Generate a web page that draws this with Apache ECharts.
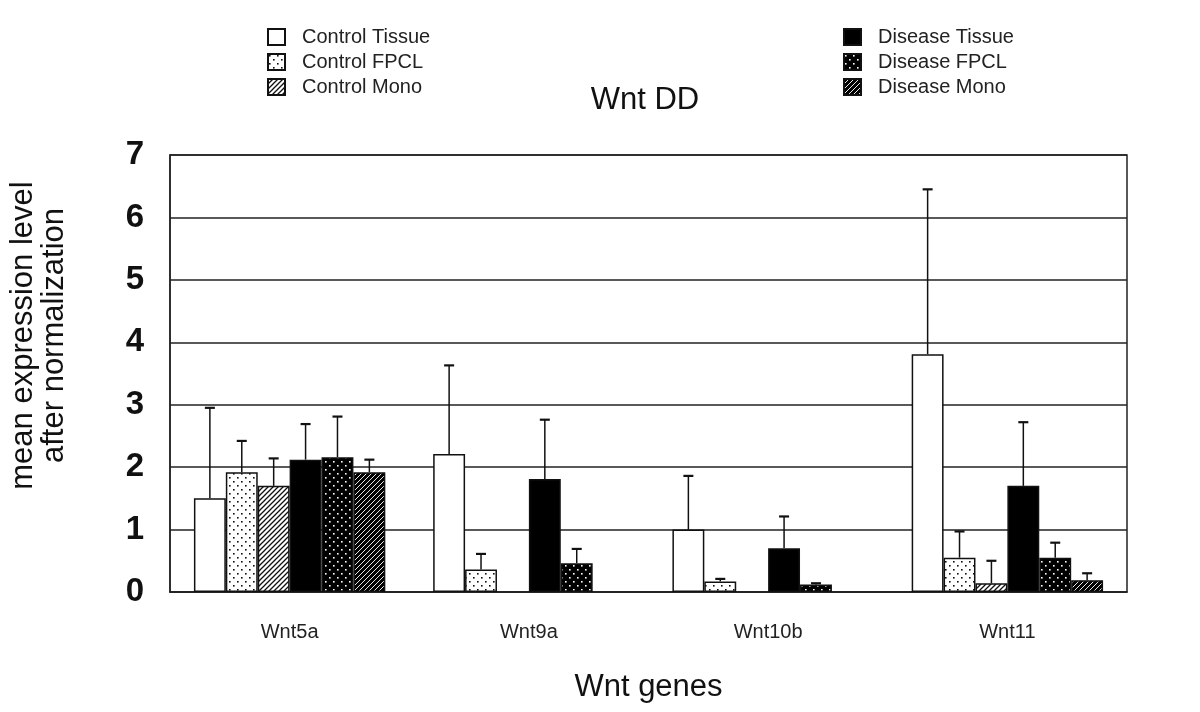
<!DOCTYPE html>
<html>
<head>
<meta charset="utf-8">
<script src="https://cdn.jsdelivr.net/npm/echarts@6/dist/echarts.min.js"></script>
<style>html,body{margin:0;padding:0;background:#fff}#chart{width:1200px;height:712px}</style>
</head>
<body>
<div id="chart"></div>
<script>
// ---- data ----
const categories = ['Wnt5a', 'Wnt9a', 'Wnt10b', 'Wnt11'];
const seriesNames = ['Control Tissue', 'Control FPCL', 'Control Mono', 'Disease Tissue', 'Disease FPCL', 'Disease Mono'];
const controlTissue = [1.50, 2.21, 1.00, 3.81];
const controlFPCL   = [1.92, 0.36, 0.17, 0.55];
const controlMono   = [1.70, null, null, 0.14];
const diseaseTissue = [2.12, 1.81, 0.70, 1.70];
const diseaseFPCL   = [2.16, 0.46, 0.12, 0.55];
const diseaseMono   = [1.92, null, null, 0.19];
const controlTissueErr = [1.45, 1.42, 0.86, 2.64];
const controlFPCLErr   = [0.50, 0.25, 0.04, 0.42];
const controlMonoErr   = [0.44, null, null, 0.36];
const diseaseTissueErr = [0.57, 0.95, 0.51, 1.02];
const diseaseFPCLErr   = [0.65, 0.23, 0.02, 0.24];
const diseaseMonoErr   = [0.20, null, null, 0.11];
const yTicks = [0, 1, 2, 3, 4, 5, 6, 7];

const values = [controlTissue, controlFPCL, controlMono, diseaseTissue, diseaseFPCL, diseaseMono];
const errors = [controlTissueErr, controlFPCLErr, controlMonoErr, diseaseTissueErr, diseaseFPCLErr, diseaseMonoErr];

// ---- patterns ----
function pattern(kind, dark) {
  const c = document.createElement('canvas');
  const s = kind === 'dots' ? 8 : 5;
  c.width = s; c.height = s;
  const g = c.getContext('2d');
  g.fillStyle = dark ? '#000' : '#fff';
  g.fillRect(0, 0, s, s);
  const fg = dark ? '#fff' : '#111';
  if (kind === 'dots') {
    g.fillStyle = fg;
    g.fillRect(1, 1, 1.6, 1.6);
    g.fillRect(5, 5, 1.6, 1.6);
  } else if (kind === 'hatch') {
    g.strokeStyle = fg;
    g.lineWidth = dark ? 0.9 : 1.3;
    g.beginPath();
    g.moveTo(0, s); g.lineTo(s, 0);
    g.moveTo(-s, s); g.lineTo(s, -s);
    g.moveTo(0, 2 * s); g.lineTo(2 * s, 0);
    g.stroke();
  }
  return c;
}
const fills = [
  '#ffffff',
  { image: pattern('dots', false), repeat: 'repeat' },
  { image: pattern('hatch', false), repeat: 'repeat' },
  '#000000',
  { image: pattern('dots', true), repeat: 'repeat' },
  { image: pattern('hatch', true), repeat: 'repeat' }
];

const FONT = 'Liberation Sans, Arial, Helvetica, sans-serif';

const barSeries = seriesNames.map((name, i) => ({
  name: name,
  type: 'bar',
  data: values[i],
  barGap: '0%',
  barCategoryGap: '20%',
  itemStyle: { color: fills[i], borderColor: '#111', borderWidth: 1.5 },
  emphasis: { disabled: true },
  z: 2
}));

const errData = [];
errors.forEach((arr, si) => {
  arr.forEach((e, ci) => {
    if (e != null && values[si][ci] != null) errData.push([ci, values[si][ci], e, si]);
  });
});

const errSeries = {
  type: 'custom',
  name: 'err',
  data: errData,
  z: 5,
  silent: true,
  renderItem: function (params, api) {
    const ci = api.value(0), v = api.value(1), e = api.value(2), si = api.value(3);
    const base = api.coord([ci, v]);
    const top = api.coord([ci, v + e]);
    const band = api.size([1, 0])[0];
    const bw = band * 0.8 / 6;
    const x = base[0] + (si - 2.5) * bw;
    const st = { stroke: '#111', lineWidth: 1.5 };
    return {
      type: 'group',
      children: [
        { type: 'line', shape: { x1: x, y1: base[1], x2: x, y2: top[1] }, style: st },
        { type: 'line', shape: { x1: x - 5, y1: top[1], x2: x + 5, y2: top[1] }, style: { stroke: '#111', lineWidth: 2.2 } }
      ]
    };
  }
};

const legendText = { fontFamily: FONT, fontSize: 20, color: '#222', padding: [0, 0, 0, 12] };

const option = {
  animation: false,
  backgroundColor: '#fff',
  title: {
    text: 'Wnt DD',
    left: 640,
    textAlign: 'center',
    top: 80,
    textStyle: { fontFamily: FONT, fontSize: 31, fontWeight: 'normal', color: '#111' }
  },
  legend: [
    {
      data: seriesNames.slice(0, 3),
      orient: 'vertical',
      left: 262,
      top: 22,
      itemWidth: 17,
      itemHeight: 16,
      itemGap: 5,
      icon: 'rect',
      selectedMode: false,
      textStyle: legendText
    },
    {
      data: seriesNames.slice(3, 6),
      orient: 'vertical',
      left: 838,
      top: 22,
      itemWidth: 17,
      itemHeight: 16,
      itemGap: 5,
      icon: 'rect',
      selectedMode: false,
      textStyle: legendText
    }
  ],
  grid: {
    left: 169, right: 73, top: 155, bottom: 120,
    show: true, borderColor: '#222', borderWidth: 1.5, backgroundColor: 'transparent'
  },
  xAxis: {
    type: 'category',
    data: categories,
    axisLine: { show: true, lineStyle: { color: '#222', width: 1.5 } },
    axisTick: { show: false },
    axisLabel: { fontFamily: FONT, fontSize: 20, color: '#222', margin: 30 },
    name: 'Wnt genes',
    nameLocation: 'middle',
    nameGap: 80,
    nameTextStyle: { fontFamily: FONT, fontSize: 31, color: '#111' }
  },
  yAxis: {
    type: 'value',
    min: 0, max: 7, interval: 1,
    axisLine: { show: true, lineStyle: { color: '#222', width: 1.5 } },
    axisTick: { show: false },
    splitLine: { show: true, lineStyle: { color: '#222', width: 1.5 } },
    axisLabel: {
      fontFamily: FONT, fontSize: 33, fontWeight: 'bold', color: '#111', margin: 26,
      formatter: function (v) { return yTicks.indexOf(v) >= 0 ? String(v) : ''; }
    },
    name: 'mean expression level\nafter normalization',
    nameLocation: 'middle',
    nameRotate: 90,
    nameGap: 100,
    nameTextStyle: { fontFamily: FONT, fontSize: 31, color: '#111', lineHeight: 31, align: 'center', padding: [0, 0, 0, 76] }
  },
  series: barSeries.concat([errSeries])
};

const chart = echarts.init(document.getElementById('chart'), null, { renderer: 'canvas' });
chart.setOption(option);
</script>
</body>
</html>
